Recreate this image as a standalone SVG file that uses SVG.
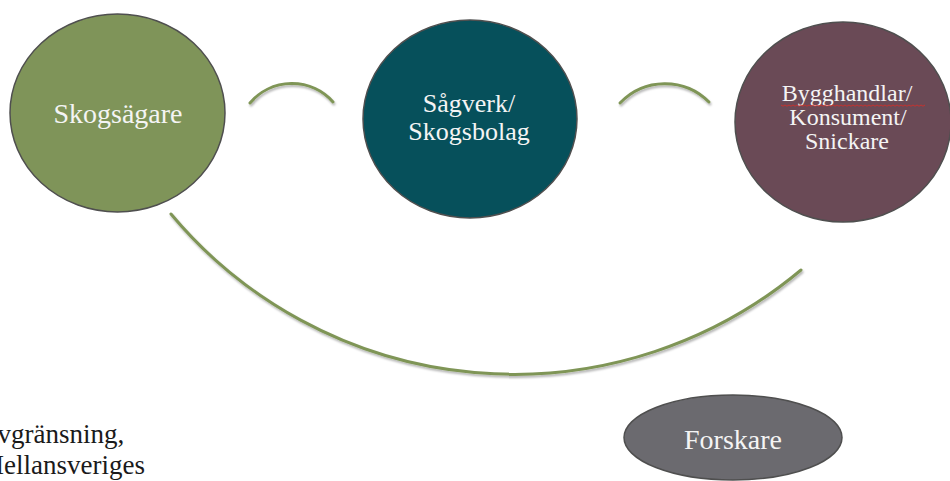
<svg xmlns="http://www.w3.org/2000/svg" width="950" height="481" viewBox="0 0 950 481">
  <defs>
    <filter id="shadow" x="-10%" y="-20%" width="120%" height="160%">
      <feDropShadow dx="1" dy="2" stdDeviation="1.2" flood-color="#000" flood-opacity="0.3"/>
    </filter>
    <style>
      .node { stroke: #4f4f4f; stroke-width: 1.5; }
      .lbl { font-family: "Liberation Serif", "Times New Roman", serif; fill: #f4f4f4; text-anchor: middle; }
      .arc { fill: none; stroke: #7f9557; stroke-width: 3; stroke-linecap: round; filter: url(#shadow); }
      .note { font-family: "Liberation Serif", "Times New Roman", serif; fill: #1a1a1a; font-size: 27px; }
    </style>
  </defs>
  <rect width="950" height="481" fill="#ffffff"/>

  <g id="connectors">
    <path class="arc" d="M250 103 A55 55 0 0 1 333 102"/>
    <path class="arc" d="M620 103 A62 62 0 0 1 709 102"/>
    <path class="arc" d="M171 214 A447 447 0 0 0 801 270"/>
  </g>

  <g id="skogsagare">
    <ellipse class="node" cx="117.5" cy="113" rx="107.5" ry="99" fill="#7f9459"/>
    <text class="lbl" x="118" y="123" font-size="28">Skogsägare</text>
  </g>

  <g id="sagverk">
    <ellipse class="node" cx="470" cy="119" rx="107" ry="99" fill="#06505b"/>
    <text class="lbl" x="469" y="112" font-size="26">Sågverk/</text>
    <text class="lbl" x="469" y="140" font-size="26">Skogsbolag</text>
  </g>

  <g id="bygghandlar">
    <ellipse class="node" cx="843" cy="122" rx="108" ry="100" fill="#6a4a56"/>
    <text class="lbl" x="847" y="101" font-size="24">Bygghandlar/</text>
    <path d="M781 105 l2 1.2 l2 -1.2 l2 1.2 l2 -1.2 l2 1.2 l2 -1.2 l2 1.2 l2 -1.2 l2 1.2 l2 -1.2 l2 1.2 l2 -1.2 l2 1.2 l2 -1.2 l2 1.2 l2 -1.2 l2 1.2 l2 -1.2 l2 1.2 l2 -1.2 l2 1.2 l2 -1.2 l2 1.2 l2 -1.2 l2 1.2 l2 -1.2 l2 1.2 l2 -1.2 l2 1.2 l2 -1.2 l2 1.2 l2 -1.2 l2 1.2 l2 -1.2 l2 1.2 l2 -1.2 l2 1.2 l2 -1.2 l2 1.2 l2 -1.2 l2 1.2 l2 -1.2 l2 1.2 l2 -1.2 l2 1.2 l2 -1.2 l2 1.2 l2 -1.2 l2 1.2 l2 -1.2 l2 1.2 l2 -1.2 l2 1.2 l2 -1.2 l2 1.2 l2 -1.2 l2 1.2 l2 -1.2 l2 1.2 l2 -1.2 l2 1.2 l2 -1.2 l2 1.2 l2 -1.2 l2 1.2 l2 -1.2 l2 1.2 l2 -1.2 l2 1.2 l2 -1.2 l2 1.2 l2 -1.2" fill="none" stroke="#d0302a" stroke-width="0.9"/>
    <text class="lbl" x="848" y="125" font-size="24">Konsument/</text>
    <text class="lbl" x="847" y="149" font-size="24">Snickare</text>
  </g>

  <g id="forskare">
    <ellipse class="node" cx="733" cy="437.5" rx="109" ry="42.5" fill="#6b6a6f"/>
    <text class="lbl" x="733" y="449" font-size="28">Forskare</text>
  </g>

  <g id="note">
    <text class="note" x="-20" y="443">Avgränsning,</text>
    <text class="note" x="-20" y="474">Mellansveriges</text>
  </g>
</svg>
